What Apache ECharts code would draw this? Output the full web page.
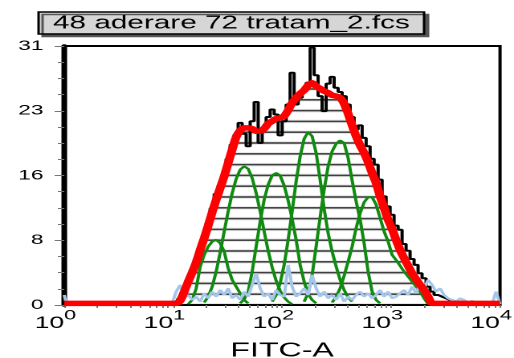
<!DOCTYPE html>
<html><head><meta charset="utf-8">
<script src="https://cdn.jsdelivr.net/npm/echarts@6/dist/echarts.min.js"></script>
<style>
html,body{margin:0;padding:0;overflow:hidden;background:#fff;width:514px;height:358px}
#c{width:320px;height:358px;transform:scaleX(1.60625);transform-origin:0 0;}
</style></head><body><div id="c"></div>
<script>
// FITC-A channel values (log scale)
const fitc = [1, 1.05, 9.79, 10.65, 11.59, 12.62, 13.73, 14.94, 16.26, 17.69, 19.25, 20.95, 22.80, 24.81, 26.99, 29.37, 31.96, 34.78, 37.84, 41.18, 44.81, 48.76, 53.06, 57.74, 62.83, 68.37, 74.39, 80.95, 88.10, 95.87, 104.3, 113.5, 123.5, 134.4, 146.3, 159.2, 173.2, 188.5, 205.1, 223.2, 242.9, 264.3, 287.6, 313.0, 340.6, 370.6, 403.3, 438.9, 477.6, 519.7, 565.5, 615.3, 669.6, 728.6, 792.9, 862.8, 938.9, 1021, 1111, 1209, 1316, 1432, 1558, 1696, 1845, 2008, 2185, 2378, 2587, 2815, 3063, 3333, 3627, 3947, 4295, 4673, 5085, 5534, 6022, 6553, 7131, 7760, 8444, 9190, 10000];

// raw histogram counts
const histogram = [0.1,0.1,0.1,0.3,0.8,1.8,3.0,4.2,5.4,6.8,
 8.2,9.8,11.6,13.3,14.3,15.5,17.5,19.2,20.4,21.8,
 20.5,19.0,22.0,24.3,19.4,21.0,22.5,23.4,22.8,20.3,
 22.0,24.0,27.8,24.0,24.8,25.8,26.6,30.8,27.5,25.0,
 23.2,26.5,27.3,26.0,25.5,25.0,24.0,22.5,21.0,21.5,
 20.0,19.0,17.5,16.8,15.0,13.0,11.8,10.8,9.5,9.0,
 7.3,6.5,5.5,4.8,3.8,3.2,2.2,1.6,1.2,1.0,
 0.8,0.6,0.5,0.4,0.4,0.3,0.3,0.2,0.2,0.2,
 0.1,0.1,0.1,0.1,0.1];

// model fit (red)
const modelFit = [0.2,0.2,0.2,0.2,0.5,1.6,2.8,3.9,5.1,6.6,
 8.0,9.5,11.1,12.6,14.0,15.4,17.0,18.6,20.1,20.9,
 21.2,21.2,21.1,20.8,20.8,21.1,21.7,22.0,22.3,22.4,
 22.6,23.3,24.2,24.8,25.3,25.7,26.3,26.6,26.2,25.9,
 25.6,25.4,25.1,25.0,24.8,24.1,22.9,21.5,20.2,19.1,
 18.2,17.1,15.8,14.6,13.0,11.6,10.2,9.1,7.8,6.6,
 5.6,4.7,3.8,3.1,2.4,1.8,1.0,0.2,0.2,0.2,
 0.2,0.2,0.2,0.2,0.2,0.2,0.2,0.2,0.2,0.2,
 0.2,0.2,0.2,0.2,0.2];

// debris / background (light blue)
const debris = [1.2,0.0,
 0.2,1.6,2.4,0.8,1.2,0.6,1.0,0.4,
 1.4,0.8,1.6,1.0,1.8,1.2,2.0,0.8,1.2,0.6,
 1.6,1.0,2.4,3.8,2.0,1.0,1.4,0.6,1.8,1.2,
 1.0,4.8,2.2,1.0,1.4,2.0,1.2,3.6,2.0,1.0,
 1.6,0.8,1.2,0.6,1.4,0.4,1.0,0.6,1.2,1.6,
 1.0,1.4,0.8,1.2,1.8,1.0,1.6,0.8,1.0,1.4,
 1.8,1.2,2.2,1.4,2.6,2.0,3.0,2.4,1.6,2.0,
 1.2,0.8,0.6,0.4,0.8,0.6,0.3,0.5,0.2,0.2,
 0.1,0.1,0.1,1.6,0.1];

// modeled peaks (green): first fitc index, then counts
const peak0Start = 6,  peak0 = [0.1,0.6,2.0,4.6,6.0,7.0,7.6,7.8,7.4,6.4,4.4,3.0,2.2,1.4,0.6,0.2];
const peak1Start = 10, peak1 = [0.3,1.0,2.2,4.0,6.3,8.8,11.2,13.4,15.1,16.2,16.6,16.3,15.2,13.4,11.2,8.8,6.5,4.5,2.9,1.7,0.9,0.4,0.1];
const peak2Start = 19, peak2 = [0.2,0.7,1.6,4.0,7.0,10.0,12.6,14.4,15.5,15.8,15.5,14.3,12.5,10.3,7.8,4.8,2.8,1.3,0.6,0.2];
const peak3Start = 27, peak3 = [0.4,1.2,2.6,4.8,7.8,11.2,14.8,17.8,19.9,20.7,20.2,18.2,15.0,11.5,8.6,6.4,4.6,3.0,1.8,0.9,0.4];
const peak4Start = 35, peak4 = [0.4,1.4,3.6,7.0,10.5,13.8,16.6,18.4,19.3,19.7,19.4,17.6,14.9,12.4,10.2,7.4,4.0,1.6,0.6,0.2];
const peak5Start = 42, peak5 = [0.3,1.0,2.0,3.5,5.2,7.0,9.2,11.0,12.3,12.9,12.9,12.0,10.4,8.8,7.6,6.0,5.4,4.7,4.0,3.4,2.8,2.2,1.6,0.8,0.1];

const yTicks = [0, 8, 16, 23, 31];
const xMinorTicks = [2,3,4,5,6,7,8,9,20,30,40,50,60,70,80,90,200,300,400,500,600,700,800,900,2000,3000,4000,5000,6000,7000,8000,9000];
const titleText = '48 aderare 72 tratam_2.fcs';
const xName = 'FITC-A';

const F = 'Liberation Sans, Arial, sans-serif';
const pairs = arr => fitc.map((x, i) => [x, arr[i]]);
const span = (start, arr) => arr.map((v, k) => [fitc[start + k], v]);

// horizontal hatch pattern
const pat = document.createElement('canvas');
pat.width = 4; pat.height = 54;
const pc = pat.getContext('2d');
pc.fillStyle = '#111';
[2.6, 13.4, 24.2, 35.0, 45.8].forEach(y => pc.fillRect(0, y - 0.75, 4, 1.5));

const chart = echarts.init(document.getElementById('c'), null, {renderer: 'canvas', devicePixelRatio: 2});
const greenStyle = {color: '#108a10', width: 2};
const greens = [[peak0Start, peak0],[peak1Start, peak1],[peak2Start, peak2],[peak3Start, peak3],[peak4Start, peak4],[peak5Start, peak5]];

chart.setOption({
  animation: false,
  title: {
    text: titleText, left: 24, top: 12, padding: [2, 9, 1, 9],
    backgroundColor: '#d6d6d6', borderColor: '#000', borderWidth: 1.5,
    shadowColor: '#555', shadowOffsetX: 2.5, shadowOffsetY: 2.5, shadowBlur: 0,
    textStyle: {fontSize: 18.5, fontWeight: 'normal', color: '#000', fontFamily: F}
  },
  grid: {left: 40, right: 8.7, top: 46, bottom: 53, show: true, borderColor: '#000', borderWidth: 2,
    backgroundColor: 'transparent', containLabel: false, outerBoundsMode: 'none'},
  xAxis: [{
    type: 'log', logBase: 10, min: 1, max: 10000,
    axisLine: {show: true, lineStyle: {color: '#000', width: 1.5}},
    axisTick: {show: true, length: 3, lineStyle: {color: '#777'}},
    splitLine: {show: false},
    axisLabel: {
      margin: 11, padding: [0, 11, 0, 0], color: '#000', fontFamily: F,
      formatter: v => '{b|10}{s|' + Math.round(Math.log10(v)) + '}',
      rich: {
        b: {fontSize: 16.5, lineHeight: 16, verticalAlign: 'bottom', fontFamily: F, color: '#000'},
        s: {fontSize: 13.5, lineHeight: 13, padding: [0, 0, 9, 0], verticalAlign: 'bottom', fontFamily: F, color: '#000'}
      }
    },
    name: xName, nameLocation: 'middle', nameGap: 36,
    nameTextStyle: {fontSize: 20, color: '#000', fontFamily: F}
  }, {
    type: 'log', logBase: 10, min: 1, max: 10000, position: 'bottom', offset: 0,
    axisLine: {show: false}, axisLabel: {show: false}, splitLine: {show: false},
    axisTick: {show: true, length: 3, customValues: xMinorTicks, lineStyle: {color: '#777'}}
  }],
  yAxis: {
    type: 'value', min: 0, max: 31, interval: 7.75,
    axisLine: {show: true, lineStyle: {color: '#000', width: 3.5}},
    axisTick: {show: true, inside: false, length: 6, lineStyle: {color: '#777', width: 1}},
    minorTick: {show: true, splitNumber: 4, length: 4, lineStyle: {color: '#777', width: 1}},
    splitLine: {show: false},
    axisLabel: {margin: 13, fontSize: 14, color: '#000', fontFamily: F,
      formatter: v => { const r = Math.round(v); return yTicks.indexOf(r) >= 0 ? String(r) : ''; }}
  },
  series: [
    {type: 'line', name: 'histogram', data: pairs(histogram), step: 'middle', symbol: 'none',
     lineStyle: {color: '#000', width: 2}, z: 2},
    ...greens.map(([s, g], k) => ({type: 'line', name: 'peak' + k, data: span(s, g), symbol: 'none',
     lineStyle: greenStyle, z: 2})),
    {type: 'line', name: 'hatch', data: pairs(modelFit), smooth: 0.2, symbol: 'none',
     lineStyle: {width: 0, opacity: 0}, areaStyle: {color: {image: pat, repeat: 'repeat'}, opacity: 1}, z: 2},
    {type: 'line', name: 'debris', data: pairs(debris), symbol: 'none',
     lineStyle: {color: '#a4c6ea', width: 2}, z: 2},
    {type: 'line', name: 'fit', data: pairs(modelFit), smooth: 0.2, symbol: 'none',
     lineStyle: {color: '#ff0000', width: 5.5}, z: 2}
  ]
});
</script></body></html>
